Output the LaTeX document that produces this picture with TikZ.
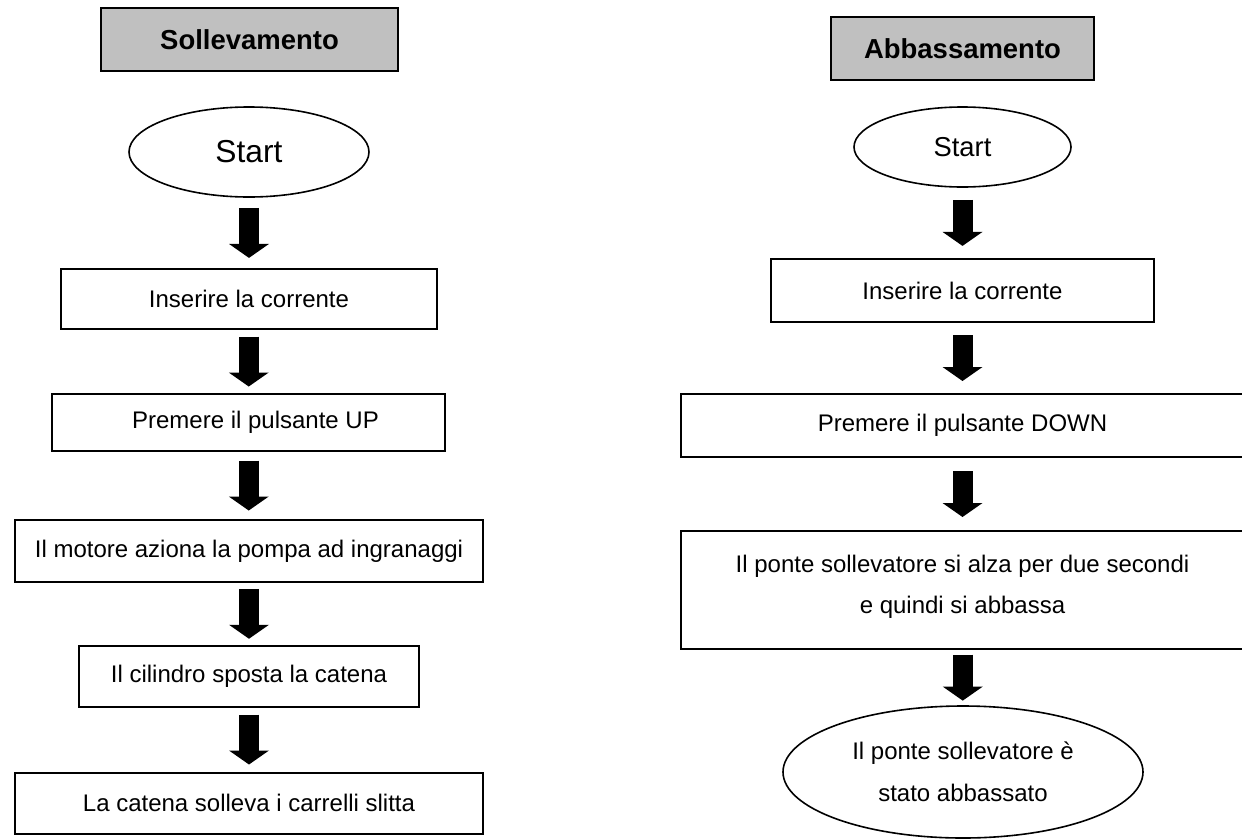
\documentclass[tikz,border=0pt]{standalone}
\usepackage{fontspec}
\setmainfont{Liberation Sans}
\usetikzlibrary{shapes.geometric,arrows.meta,calc}
\def\pxu{0.75pt}
\definecolor{titlegray}{RGB}{192,192,192}
\tikzset{
  box/.style={draw, line width=1.5pt, rectangle, inner sep=0pt, align=center,
    font=\fontsize{18}{30.75}\selectfont},
  titlebox/.style={box, fill=titlegray, font=\fontsize{20.6}{24}\selectfont\bfseries},
  oval/.style={draw, ellipse, line width=1.2pt, inner sep=0pt, align=center},
  barrow/.style={line width=15pt, -{Triangle[width=30pt,length=10.5pt,line width=0pt]}}
}
\begin{document}
\begin{tikzpicture}[x=0.75pt,y=-0.75pt]
\useasboundingbox (0,0) rectangle (1242,839);
% left column
\node[titlebox, minimum width=297*\pxu, minimum height=63*\pxu] (t1) at (249.5,39.5) {Sollevamento};
\node[oval, minimum width=240*\pxu, minimum height=90*\pxu, font=\fontsize{23.8}{28}\selectfont] (s1) at (249,152) {Start};
\node[box, minimum width=376*\pxu, minimum height=60*\pxu] (b1) at (249,299) {Inserire la corrente};
\node[box, minimum width=393*\pxu, minimum height=57*\pxu] (b2) at (248.5,422.5) {\hspace*{10.5pt}Premere il pulsante UP};
\node[box, minimum width=468*\pxu, minimum height=62*\pxu] (b3) at (249,551) {Il motore aziona la pompa ad ingranaggi};
\node[box, minimum width=340*\pxu, minimum height=61*\pxu] (b4) at (249,676) {Il cilindro sposta la catena};
\node[box, minimum width=468*\pxu, minimum height=61*\pxu] (b5) at (249,803) {La catena solleva i carrelli slitta};
% right column
\node[titlebox, minimum width=263*\pxu, minimum height=63*\pxu] (t2) at (962.5,48.5) {Abbassamento};
\node[oval, minimum width=217*\pxu, minimum height=80*\pxu, font=\fontsize{20.5}{24}\selectfont] (s2) at (962.5,147) {Start};
\node[box, minimum width=383*\pxu, minimum height=63*\pxu] (r1) at (962.5,290.5) {Inserire la corrente};
\node[box, minimum width=563*\pxu, minimum height=63*\pxu] (r2) at (962.5,425.5) {Premere il pulsante DOWN};
\node[box, minimum width=563*\pxu, minimum height=118*\pxu, text depth=8.5pt] (r3) at (962.5,590) {Il ponte sollevatore si alza per due secondi\\e quindi si abbassa};
\node[oval, minimum width=360*\pxu, minimum height=132*\pxu, font=\fontsize{18}{31.5}\selectfont] (e2) at (963,772) {Il ponte sollevatore è\\stato abbassato};
% arrows
\foreach \a/\b in {s1/b1,b1/b2,b2/b3,b3/b4,b4/b5}{
  \draw[barrow] ($(\a.south)!.5!(\b.north)+(0,-25)$) -- ($(\a.south)!.5!(\b.north)+(0,25)$);
}
\foreach \a/\b in {s2/r1,r1/r2,r2/r3,r3/e2}{
  \draw[barrow] ($(\a.south)!.5!(\b.north)+(0,-23)$) -- ($(\a.south)!.5!(\b.north)+(0,23)$);
}
\end{tikzpicture}
\end{document}
